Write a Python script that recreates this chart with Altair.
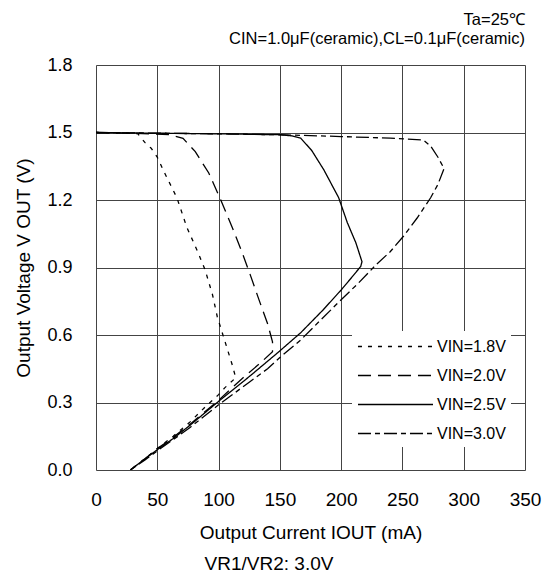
import altair as alt
import pandas as pd

series = ["VIN=1.8V", "VIN=2.0V", "VIN=2.5V", "VIN=3.0V"]

# Output current (mA) / output voltage (V) read along each traced path
i_18 = [0, 20, 34, 40, 45, 50, 56, 66, 74, 83, 89, 95, 99, 103, 107, 111, 114, 105, 100, 90, 77, 63, 50, 40, 28]
v_18 = [1.50, 1.498, 1.495, 1.455, 1.43, 1.39, 1.32, 1.21, 1.08, 0.97, 0.89, 0.78, 0.68, 0.61, 0.54, 0.47, 0.41,
        0.365, 0.335, 0.285, 0.215, 0.15, 0.095, 0.05, 0.0]

i_20 = [0, 30, 60, 71, 81, 92, 101, 111, 119, 126, 133, 140, 144, 144, 134, 120, 100, 77, 63, 50, 40, 28]
v_20 = [1.50, 1.497, 1.49, 1.474, 1.415, 1.32, 1.21, 1.08, 0.97, 0.865, 0.756, 0.65, 0.57, 0.526, 0.475, 0.41,
        0.31, 0.205, 0.145, 0.095, 0.05, 0.0]

i_25 = [0, 50, 100, 150, 160, 167, 176, 186, 198, 205, 212, 217, 216, 210, 200, 185, 167, 148, 125, 100, 77, 63,
        50, 40, 28]
v_25 = [1.50, 1.497, 1.494, 1.49, 1.485, 1.475, 1.42, 1.333, 1.21, 1.10, 1.01, 0.926, 0.905, 0.865, 0.80, 0.71,
        0.61, 0.52, 0.415, 0.305, 0.20, 0.14, 0.09, 0.05, 0.0]

i_30 = [0, 50, 100, 150, 200, 240, 267, 273, 279, 284, 279, 273, 262, 251, 240, 229, 214, 200, 183, 167, 150, 140,
        125, 110, 100, 77, 63, 50, 40, 28]
v_30 = [1.50, 1.497, 1.494, 1.49, 1.482, 1.475, 1.467, 1.44, 1.39, 1.34, 1.27, 1.21, 1.12, 1.04, 0.97, 0.915, 0.83,
        0.757, 0.665, 0.578, 0.50, 0.45, 0.39, 0.33, 0.29, 0.19, 0.135, 0.085, 0.045, 0.0]

x_ticks = [0, 50, 100, 150, 200, 250, 300, 350]
y_ticks = [0.0, 0.3, 0.6, 0.9, 1.2, 1.5, 1.8]

top_lines = ["Ta=25℃", "CIN=1.0μF(ceramic),CL=0.1μF(ceramic)"]
caption = "VR1/VR2: 3.0V"

rows = []
for name, xs, ys in zip(series, [i_18, i_20, i_25, i_30], [v_18, v_20, v_25, v_30]):
    for k, (a, b) in enumerate(zip(xs, ys)):
        rows.append({"series": name, "k": k, "I": a, "V": b})
df = pd.DataFrame(rows)

FONT = "Liberation Sans"
dashes = [[4, 6], [13, 7], [1, 0], [13, 4, 5, 4]]

lines = alt.Chart(df).mark_line(color="black", strokeWidth=1.3, clip=True).encode(
    x=alt.X("I:Q", scale=alt.Scale(domain=[0, 350], nice=False),
            axis=alt.Axis(values=x_ticks, title="Output Current IOUT (mA)", ticks=False, domain=False,
                          labelFontSize=19, labelPadding=20, titleFontSize=19, titlePadding=14,
                          labelFont=FONT, titleFont=FONT, titleFontWeight="normal",
                          labelColor="black", titleColor="black",
                          gridColor="#444", gridWidth=1, labelFlush=False)),
    y=alt.Y("V:Q", scale=alt.Scale(domain=[0, 1.8], nice=False),
            axis=alt.Axis(values=y_ticks, format=".1f", title="Output Voltage V OUT (V)", ticks=False,
                          domain=False, labelFontSize=18, labelPadding=24, titleFontSize=19,
                          titlePadding=13, labelFont=FONT, titleFont=FONT, titleFontWeight="normal",
                          labelColor="black", titleColor="black",
                          gridColor="#444", gridWidth=1, labelFlush=False)),
    strokeDash=alt.StrokeDash("series:N", scale=alt.Scale(domain=series, range=dashes),
                              legend=alt.Legend(title=None, orient="none", legendX=256, legendY=266,
                                                fillColor="white", padding=5, symbolType="M-4,0H4",
                                                symbolSize=352, symbolStrokeWidth=1.3, symbolOffset=28,
                                                symbolStrokeColor="black", labelFontSize=16,
                                                labelFont=FONT, labelColor="black", labelOffset=31,
                                                rowPadding=10)),
    order="k:Q",
)

cap = alt.Chart(pd.DataFrame({"t": [caption]})).mark_text(
    font=FONT, fontSize=19, color="black", align="center", baseline="alphabetic"
).encode(text="t:N", x=alt.value(173), y=alt.value(505))

chart = alt.layer(lines, cap).properties(
    width=429, height=405,
    title=alt.TitleParams(top_lines, anchor="end", frame="group", font=FONT, fontSize=16.5,
                          fontWeight="normal", color="black", lineHeight=19, offset=9),
    autosize=alt.AutoSizeParams(type="none"),
    padding={"left": 88, "top": 57, "right": 24, "bottom": 105},
).configure_view(stroke="black", strokeWidth=1.5).configure(background="white")

chart.save("out.html", embed_options={"renderer": "svg", "actions": False})
